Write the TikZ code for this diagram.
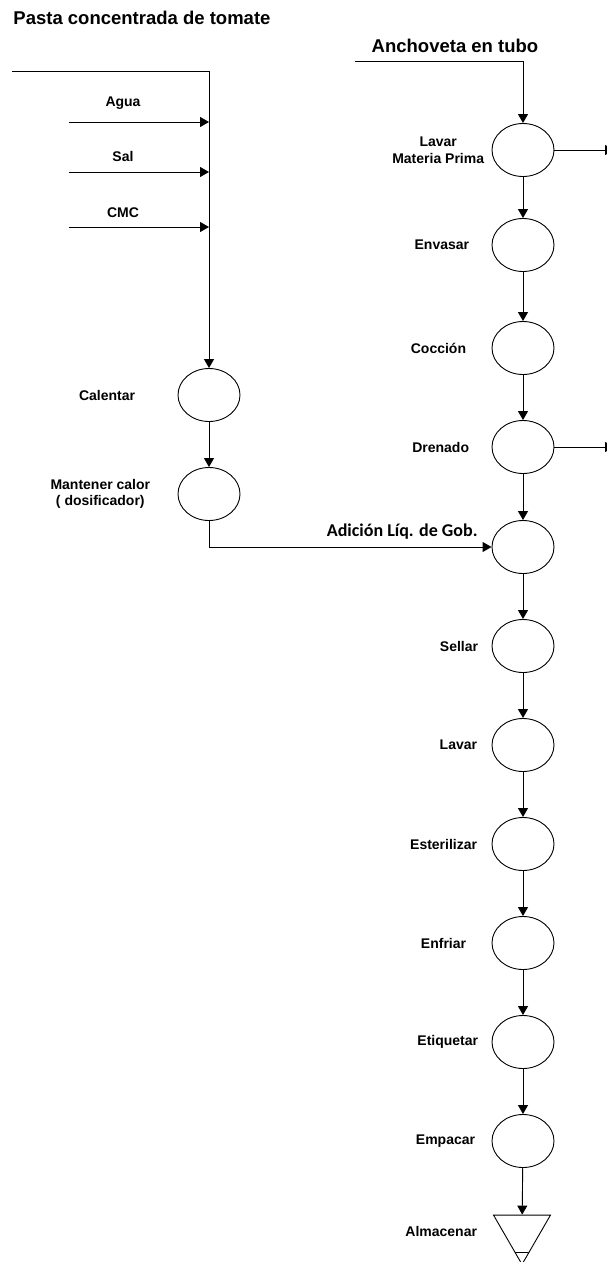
\documentclass[tikz,border=0pt]{standalone}
\usepackage{fontspec}
\setmainfont{Liberation Sans}
\newfontfamily\gobfont{Carlito}
\usetikzlibrary{arrows.meta,positioning,calc,shapes.geometric}

\begin{document}
\begin{tikzpicture}[x=1pt,y=-1pt,line width=0.9pt,
    font=\fontsize{14}{16.5}\selectfont\bfseries,
    op/.style={draw,ellipse,minimum width=62pt,minimum height=53pt,inner sep=0pt},
    txt/.style={align=center,inner sep=0pt},
    big/.style={font=\fontsize{18.5}{22}\selectfont\bfseries,inner sep=0pt},
    flow/.style={-{Triangle[length=9pt,width=10pt]}}]
  \useasboundingbox (0,0) rectangle (606,1262);
  % entradas
  \node[big,anchor=west] (pasta) at (13,18) {Pasta concentrada de tomate};
  \node[big] (anch) at (455,46) {Anchoveta en tubo};
  \node[txt] (agua) at (123,103) {Agua};
  \node[txt] (sal) at (123,156) {Sal};
  \node[txt] (cmc) at (123,213) {CMC};
  \coordinate (pastaIn) at (12,71);
  \coordinate (anchIn) at (355,61);
  \coordinate (aguaIn) at (69,122);
  \coordinate (salIn) at (69,172);
  \coordinate (cmcIn) at (69,227);
  \coordinate (lmpOut) at (614,150);
  \coordinate (dreOut) at (614,447);
  % liquido de gobierno
  \node[op] (cal) at (209,395) {};
  \node[op] (man) at (209,494) {};
  \node[txt,left=42pt of cal] (calT) {Calentar};
  \node[txt,left=27pt of man] (manT) {Mantener calor\\( dosificador)};
  % linea principal
  \node[op] (lmp) at (523,150) {};
  \node[op] (env) at (523,245) {};
  \node[op] (coc) at (523,348) {};
  \node[op] (dre) at (523,447) {};
  \node[op] (adi) at (523,547) {};
  \node[op] (sel) at (523,646) {};
  \node[op] (lav) at (523,745) {};
  \node[op] (est) at (523,844) {};
  \node[op] (enf) at (523,943) {};
  \node[op] (eti) at (523,1042) {};
  \node[op] (emp) at (523,1141) {};
  \node[draw,regular polygon,regular polygon sides=3,shape border rotate=180,
        minimum size=65.8pt,inner sep=0pt] (alm) at (522,1231.5) {};
  \node[txt,left=7pt of lmp] (lmpT) {Lavar\\Materia Prima};
  \node[txt,left=22pt of env] (envT) {Envasar};
  \node[txt,left=25pt of coc] (cocT) {Cocción};
  \node[txt,left=22pt of dre] (dreT) {Drenado};
  \node[txt,font=\gobfont\fontsize{18}{21}\selectfont\bfseries,anchor=east]
        (adiT) at (478,532) {Adición Líq. de Gob.};
  \node[txt,left=13pt of sel] (selT) {Sellar};
  \node[txt,left=14pt of lav] (lavT) {Lavar};
  \node[txt,left=14pt of est] (estT) {Esterilizar};
  \node[txt,left=25pt of enf] (enfT) {Enfriar};
  \node[txt,left=13pt of eti] (etiT) {Etiquetar};
  \node[txt,left=16pt of emp] (empT) {Empacar};
  \node[txt,left=25pt of alm] (almT) {Almacenar};
  \draw ($(alm.corner 1)!0.25!(alm.corner 2)$) -- ($(alm.corner 1)!0.25!(alm.corner 3)$);
  % flechas
  \draw[flow] (pastaIn) -| (cal);
  \draw[flow] (anchIn) -| (lmp);
  \foreach \s in {aguaIn,salIn,cmcIn}
    \draw[flow] (\s) -- (\s -| cal);
  \draw[flow] (cal) -- (man);
  \draw[flow] (man) |- (adi);
  \draw[flow] (lmp) -- (lmpOut);
  \draw[flow] (dre) -- (dreOut);
  \foreach \a/\b in {lmp/env,env/coc,coc/dre,dre/adi,adi/sel,sel/lav,lav/est,
                     est/enf,enf/eti,eti/emp,emp/alm}
    \draw[flow] (\a) -- (\b);
\end{tikzpicture}
\end{document}
